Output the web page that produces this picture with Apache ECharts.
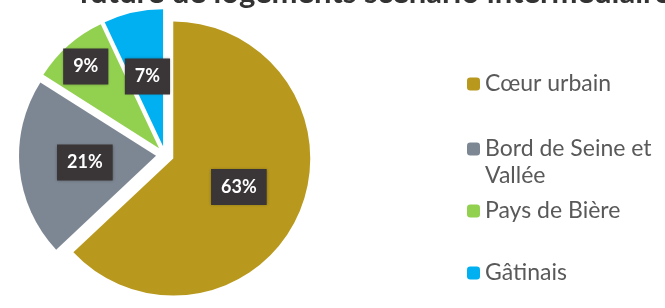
<!DOCTYPE html>
<html>
<head>
<meta charset="utf-8">
<script src="https://cdn.jsdelivr.net/npm/echarts@6/dist/echarts.min.js"></script>
<style>html,body{margin:0;padding:0;background:#fff;}#c{width:665px;height:308px;}</style>
</head>
<body>
<div id="c"></div>
<script>
const titleText = 'future de logements scénario intermédiaire';
const categories = ['Cœur urbain', 'Bord de Seine et Vallée', 'Pays de Bière', 'Gâtinais'];
const values = [63, 21, 9, 7];
const labels = ['63%', '21%', '9%', '7%'];
const colors = ['#B8991E', '#7D8793', '#92D050', '#00B0F0'];

const legendCenters = [79, 144, 206, 268];
const labelShift = {2: {dx: -26, dy: -28}};

const chart = echarts.init(document.getElementById('c'));
const data = categories.map((c, i) => ({
  name: c, value: values[i], selected: true,
  itemStyle: {color: colors[i]},
  label: {formatter: labels[i]}
}));
const legends = categories.map((c, i) => {
  const twoLine = c === 'Bord de Seine et Vallée';
  return {
    data: [c],
    orient: 'vertical',
    left: 462,
    top: legendCenters[i] - (twoLine ? 40.5 : 13.5),
    itemWidth: 13,
    itemHeight: 13,
    itemGap: 0,
    selectedMode: false,
    formatter: twoLine ? ' \nBord de Seine et\nVallée' : '{name}',
    textStyle: {
      fontFamily: 'Lato',
      fontSize: 23,
      color: '#595959',
      lineHeight: 27
    }
  };
});
chart.setOption({
  backgroundColor: '#ffffff',
  animation: false,
  title: {
    text: titleText,
    left: 74,
    top: -28,
    textStyle: {fontFamily: 'Lato', fontWeight: 'bold', fontSize: 31, color: '#333333'}
  },
  legend: legends,
  series: [{
    type: 'pie',
    center: [165, 155],
    radius: [0, 137],
    startAngle: 90,
    clockwise: true,
    selectedMode: 'multiple',
    selectedOffset: 9,
    emphasis: {disabled: true},
    label: {
      show: true,
      position: 'inside',
      fontFamily: 'Lato',
      fontWeight: 'bold',
      fontSize: 18,
      lineHeight: 20,
      color: '#ffffff',
      backgroundColor: '#3a3537',
      padding: [8, 10],
      shadowColor: 'rgba(0,0,0,0.3)',
      shadowBlur: 3
    },
    labelLine: {show: false},
    labelLayout: function (params) {
      return labelShift[params.dataIndex] || {};
    },
    data: data
  }]
});
</script>
</body>
</html>
